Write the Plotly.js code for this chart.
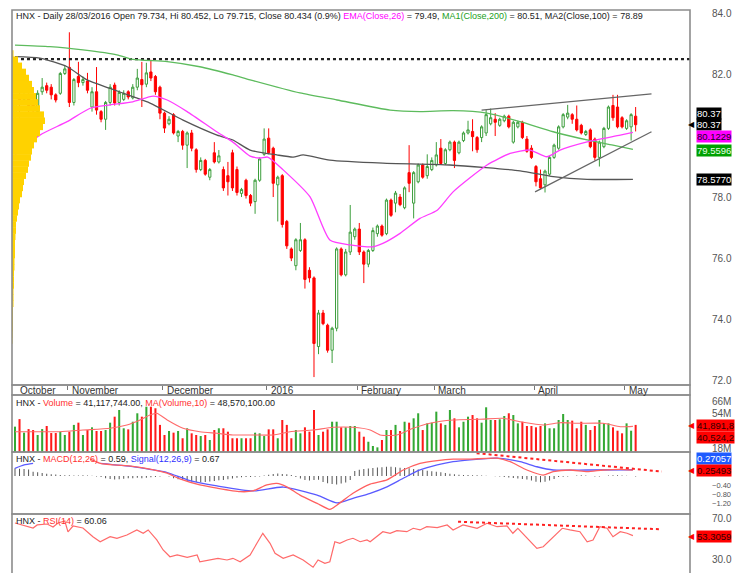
<!DOCTYPE html>
<html><head><meta charset="utf-8">
<script src="https://cdn.plot.ly/plotly-3.0.1.min.js"></script>
<style>html,body{margin:0;padding:0;background:#fff;}#chart{width:738px;height:573px;}</style>
</head><body><div id="chart"></div>
<script>
// ---------- price data (one entry per trading day) ----------
const opens = [80.75,81.25,81.2,81.34,81.1,80.8,81.45,81.65,81.6,81.35,81.4,82.05,82.25,81.1,81.95,81.75,81.8,80.95,81.45,80.8,
80.55,81.1,81.67,81.1,81.2,81.45,81.25,81.6,81.85,81.7,82.1,81.95,81.6,80.75,80.4,80.7,80.0,80.15,79.7,80.1,
79.55,78.9,79.2,78.65,79.45,79.15,78.9,78.7,79.45,78.9,78.12,78.55,78.05,77.85,78.55,79.4,79.93,79.6,78.4,78.7,
77.2,76.3,75.75,76.25,76.6,75.6,75.35,73.1,74.2,73.8,72.98,73.7,76.3,75.45,76.2,76.7,76.95,76.2,75.8,76.25,
76.8,77.05,76.8,77.9,77.8,78.0,77.65,78.8,77.8,78.5,79.05,78.7,78.9,79.05,79.6,79.1,79.55,79.8,79.45,79.85,
80.1,80.15,79.95,79.95,80.1,80.4,80.55,80.35,80.5,80.65,79.8,80.3,80.45,79.9,79.6,79.0,78.6,78.4,78.75,79.3,
79.6,80.3,80.62,80.7,80.55,80.35,80.05,80.2,79.9,79.3,79.65,80.25,81.0,80.95,80.6,80.25,80.3,80.65];
const highs = [81.18,81.5,81.45,81.4,81.2,81.5,81.9,81.75,81.7,81.4,82.1,82.3,83.4,81.9,82.43,81.95,82.07,81.6,82.26,80.85,
81.15,81.7,81.75,81.5,81.5,81.5,81.7,82.2,82.43,82.4,82.5,82.0,81.65,80.8,80.65,80.75,80.2,80.2,80.15,80.2,
79.6,79.3,79.25,78.95,79.8,79.54,79.0,79.15,79.55,79.0,78.3,78.6,78.1,78.6,79.3,80.25,80.25,79.65,78.7,78.75,
77.25,76.35,76.65,77.15,76.65,75.7,75.4,74.3,74.3,73.85,73.75,76.35,76.35,76.3,77.74,77.0,77.15,76.25,76.3,77.0,
77.1,77.1,77.95,77.95,78.2,78.1,78.35,79.7,78.85,79.1,79.1,79.4,79.3,79.8,79.9,79.6,79.85,79.85,79.85,80.15,
80.5,80.55,80.0,80.35,80.85,80.9,80.75,80.6,80.7,80.7,80.5,80.5,80.5,80.0,79.7,79.05,78.9,78.9,79.35,79.75,
80.35,80.75,81.02,80.75,81.0,80.4,80.2,80.25,79.95,79.85,80.3,81.0,81.35,81.35,80.65,80.55,80.75,80.95];
const lows = [80.43,80.6,81.1,80.62,80.7,80.75,81.35,81.4,81.2,81.1,81.35,82.0,80.95,81.0,81.6,81.65,81.4,80.8,80.7,80.45,
80.2,81.0,81.0,81.0,81.15,81.2,81.2,81.5,80.95,81.6,81.8,81.35,80.55,80.1,80.35,80.05,79.8,79.55,78.95,79.5,
78.8,78.85,78.7,78.55,79.1,79.1,78.2,78.05,78.2,78.05,78.0,77.95,77.7,77.45,78.5,79.35,79.4,78.0,77.2,77.0,
76.3,75.9,75.6,76.2,75.0,75.2,72.1,72.85,73.8,72.9,72.56,73.6,75.4,75.4,76.1,76.6,76.1,75.18,75.7,76.2,
76.7,76.7,76.75,77.35,77.5,77.7,77.6,78.16,77.3,78.45,78.6,78.6,78.85,79.0,79.05,79.05,79.5,78.95,79.4,79.8,
80.05,79.5,79.45,79.8,80.0,80.35,80.0,80.3,80.45,80.25,79.75,80.25,79.9,79.45,79.25,78.35,78.25,78.15,78.7,79.25,
79.55,80.25,80.55,80.4,80.15,80.05,80.0,79.6,79.2,79.0,79.6,80.2,80.5,80.25,80.25,80.2,79.85,80.15];
const closes = [81.12,81.08,81.35,81.0,80.85,81.4,81.6,81.5,81.35,81.18,82.05,82.2,81.1,81.85,81.75,81.85,81.5,81.45,80.85,80.55,
81.1,81.6,81.08,81.43,81.4,81.28,81.6,81.9,81.68,82.07,81.9,81.45,80.75,80.26,80.55,80.1,80.15,79.7,80.1,79.6,
78.9,79.2,78.75,78.9,79.15,79.35,78.3,78.5,78.3,78.15,78.25,78.05,77.8,78.55,79.25,79.9,79.45,78.45,78.65,77.1,
76.4,76.0,76.6,76.6,75.3,75.35,73.2,74.2,73.85,72.98,73.7,76.3,75.45,76.2,76.85,76.95,76.2,75.8,76.25,76.9,
77.05,76.75,77.9,77.4,78.13,77.75,78.3,78.45,78.8,79.05,78.65,79.0,79.2,79.38,79.1,79.55,79.8,79.2,79.8,80.1,
80.2,79.98,79.55,80.3,80.7,80.6,80.45,80.55,80.65,80.3,80.45,80.45,79.95,79.5,79.3,78.5,78.3,78.85,79.3,79.7,
80.3,80.7,80.75,80.55,80.2,80.1,80.15,79.65,79.3,79.8,80.25,80.95,80.6,80.3,80.3,80.5,80.7,80.37];
// volume, millions of shares
const volumes = [40.2,48,34,37.7,36.7,31.6,37.7,40.9,33.6,33.6,35,31.6,35,42,44.3,31.6,36.7,39.5,35.7,35.7,
36.7,44.3,50.5,57.4,38.5,37.4,45.3,54,50.5,60.8,60.8,59.2,42,31.6,35.7,34,35.7,28.2,38.5,33.3,
31.6,30.5,31.6,26.4,36.7,38.5,38.5,35,28.2,28.2,28.2,28.2,28.2,34,33.3,30.5,37.4,37.4,28.2,47.1,
42,28.2,36.7,33.3,39.5,35,57.4,31.6,35,37.4,45.3,45.3,39.5,39.5,40.9,40.9,35,29.8,24.6,20.2,
18.8,26.4,36.7,36.7,42,35.7,45.3,44.3,48.8,54,36.7,43.6,44.3,55.7,43.6,42,57.4,48.8,39.5,45.3,
50.5,52.2,48.8,44.3,60.2,47.1,47.1,47.8,51.2,54,52.2,43.6,45.3,40.9,40.9,39.5,40.9,43.6,38.5,38.5,
47.1,53.3,47.1,46.4,38.5,45.3,42,36.7,40.9,47.1,43.6,43.6,39.5,36,33.3,43.6,36,42];
// MACD histogram
const macdHist = [0.33,0.31,0.3,0.28,0.18,0.16,0.13,0.1,0.08,0.06,0.04,0.03,0.03,0.02,0.02,0.03,0.02,0.01,-0.02,-0.05,
-0.1,-0.13,-0.15,-0.14,-0.12,-0.1,-0.1,-0.08,-0.1,-0.08,-0.06,-0.04,-0.02,0.0,-0.02,-0.1,-0.14,-0.18,-0.22,-0.24,
-0.26,-0.27,-0.26,-0.24,-0.22,-0.19,-0.17,-0.14,-0.11,-0.08,-0.06,-0.05,-0.04,-0.03,-0.02,0.02,0.05,0.09,0.11,0.09,
0.07,0.04,-0.05,-0.11,-0.18,-0.2,-0.18,-0.16,-0.26,-0.32,-0.35,-0.37,-0.33,-0.28,-0.18,0.22,0.27,0.3,0.32,0.35,
0.37,0.38,0.4,0.4,0.38,0.36,0.35,0.33,0.3,0.28,0.26,0.23,0.2,0.18,0.16,0.13,0.1,0.07,0.05,0.04,
0.04,0.03,0.03,0.02,0.01,0.0,-0.01,-0.02,-0.05,-0.07,-0.09,-0.11,-0.13,-0.15,-0.2,-0.25,-0.27,-0.25,-0.2,-0.13,
-0.05,-0.03,-0.02,0.0,0.02,0.03,0.02,0.0,-0.02,-0.02,0.0,0.02,0.03,0.03,0.02,0.01,0.0,-0.02];

// ---------- indicator lines (read positions: day index, value) ----------
const ema26X = [0,5.5,11.5,16.6,21,26,30.5,33.6,38,44.6,48.1,51.9,54.1,55.8,59.2,65.1,69.5,74,79,81.2,85,89.4,93.2,96.7,104.2,109.3,113.7,117.4,120.3,126.3,133.6,136.4];
const ema26Y = [79.38,80.03,80.47,80.91,81.02,81.12,81.31,81.18,80.8,80.13,79.8,79.34,79.28,79.31,78.89,78.01,76.59,76.43,76.37,76.48,76.81,77.3,77.57,78.17,79.05,79.43,79.54,79.32,79.54,79.81,80.03,80.12];
const ma200X = [0,7.7,15,22.5,26,33.6,40.8,48.1,51.9,62.9,71.1,82.8,89.4,96.7,104.2,111.5,118.8,126.3,132,136.4];
const ma200Y = [82.98,82.93,82.82,82.66,82.51,82.44,82.27,82.0,81.84,81.41,81.18,80.85,80.8,80.83,80.75,80.47,80.14,79.87,79.7,79.56];
const ma100X = [0,5.5,11.5,15.9,21,26,29.8,37.1,44.6,48.1,51.9,57.8,61.4,63.6,69.5,81.2,96,111.5,118.8,126.3,136.4];
const ma100Y = [82.6,82.55,82.27,81.84,81.56,81.29,81.08,80.52,80.03,79.87,79.54,79.38,79.31,79.38,79.21,79.11,79.05,78.86,78.67,78.58,78.58];
const volMaX = [0,9.9,15,21,24.7,27.6,29.8,31.3,33.6,37.1,40.8,44.6,48.1,52.5,57,60.7,65.8,70.2,74.6,78.4,80.6,84.3,87.9,91.6,96.7,102.6,107.7,111.5,116.6,120.3,124.1,129.8,133.6,136.4];
const volMaY = [35,35,36.7,38.5,41.9,47.1,52.2,54,47.1,38.5,35,33.3,31.6,31.6,31.6,35,36.7,39.5,39.5,36.7,31.6,31.6,38.5,43.7,47.1,47.8,48.8,45.3,41.9,44.3,43.7,43.7,40.1,40.5];
const macdX = [16.6,18.8,26,29.8,33.6,36.4,40.8,44.6,49.7,52.5,55.6,57.8,60,62.9,66.7,69.5,71.1,74.6,78.4,82.1,85.7,89.4,93.2,96.7,100.4,106.4,109.3,113,116.6,118.8,122.5,126.3,129.8,133.6,136.4];
const macdY = [0.73,0.55,0.42,0.3,0.12,-0.13,-0.39,-0.53,-0.68,-0.65,-0.39,-0.32,-0.47,-0.83,-1.19,-1.45,-1.26,-0.75,-0.35,-0.17,0.26,0.55,0.67,0.73,0.73,0.77,0.62,0.26,0.04,0.19,0.26,0.19,0.26,0.29,0.25];
const signalX = [0,2,4,null,18.8,26,29.8,33.6,38.6,44.6,52.5,59.2,66.7,71.1,74.6,78.4,82.1,85.7,89.4,93.2,96.7,100.4,106.4,111.5,115.2,118.8,126.3,136.4];
const signalY = [0.33,0.48,0.55,null,0.55,0.41,0.29,0.15,-0.2,-0.43,-0.65,-0.48,-0.83,-1.17,-0.97,-0.75,-0.47,-0.1,0.26,0.48,0.62,0.7,0.77,0.62,0.4,0.26,0.26,0.27];
const rsiX = [0,2.6,4,4.9,7.1,8.4,9.5,11,11.7,12.8,15,17.2,18.8,21,22.5,24.7,26.9,28.3,29.4,31.3,32.7,34.2,35.8,38,40.2,40.8,43,44.8,46.8,48.1,49.7,51.9,53.4,54.7,56.3,57.4,59.2,61.4,63.6,64.7,65.8,66.9,68.4,69.5,70.6,71.7,73.3,74.6,76.2,77.7,78.4,81.2,82.8,84.3,86.5,87.9,89.4,90.9,93.2,95.4,96.7,98.9,102,104.2,106.4,108.6,109.9,111,113,115.2,116.6,118.8,120.8,122.5,124.7,126.3,127.6,129.1,130.7,132,133.6,135.1,136.4];
const rsiY = [65.5,61.9,60.7,63.6,64.5,61.7,65.5,67.4,56.9,62.6,60.7,52.3,47.5,52.3,50.8,54,58.8,55.6,58.8,49.2,39.6,33.1,34.8,32.6,34.8,28.3,30,31.6,30,31.6,28.3,34.8,46,55.6,46,36.4,31.6,34.8,30,26.8,23,30,26.8,28.3,47.5,46,49.2,50.8,47.5,49.2,47.5,57.1,55.6,58.1,57.1,60.4,58.8,61.9,61,63.6,58.8,63.6,60.4,65.2,61.9,62.6,55.6,60.4,50.8,41.2,42.7,52.3,60.4,58.8,57.1,47.5,49.2,61.9,60.4,52.3,57.1,55.6,53.3];

// trend lines (day index, value)
const trendUpX = [103, 140.5], trendUpY = [80.85, 81.38];
const trendLoX = [114.8, 140.5], trendLoY = [78.17, 80.14];
const resistX = [0, 149], resistY = [82.52, 82.52];
const macdTrendX = [101.9, 142.8], macdTrendY = [0.99, 0.19];
const rsiTrendX = [97.8, 142.8], rsiTrendY = [66.7, 59.4];

// volume-at-price profile
const profPrice = [82.7,82.5,82.3,82.1,81.9,81.7,81.5,81.3,81.1,80.9,80.7,80.5,80.3,80.1,79.9,79.7,79.5,79.3,79.1,78.9,78.7,78.5,78.3,78.1,77.9,77.7,77.5,77.3,77.1,76.9,76.7,76.5,76.3,76.1,75.9,75.7,75.5,75.3,75.1,74.9,74.7,74.5,74.3,74.1,73.9,73.7,73.5,73.3];
const profVol = [1.5,6,10,14,17,20,22,24,26,28,32,33,31,28,25,22,20,19,17,16,14,12,11,10,8,7,6,5,4,4,3.5,3,3,3,2.5,2.5,2,2,2,1.5,1.5,1.5,1,1,1,1,0.8,0.6];

// months
const monthNames = ['October','November','December','2016','February','March','April','May'];
const monthStart = [0.7,12,33,56,76,93,115,135];

// last-value labels
const mainLabels = [
  {v:80.37, t:'80.37', bg:'#000000', fc:'#FFFFFF', sh:11},
  {v:80.37, t:'80.37', bg:'#000000', fc:'#FFFFFF', sh:0, ptr:'#000000'},
  {v:80.1229, t:'80.1229', bg:'#FF00FF', fc:'#200020', sh:-4},
  {v:79.5596, t:'79.5596', bg:'#00A000', fc:'#E8FFE8', sh:-1},
  {v:78.5770, t:'78.5770', bg:'#000000', fc:'#FFFFFF', sh:0}
];
const volLabels = [
  {v:41.89, t:'41,891,8', bg:'#FF0000', fc:'#300000', sh:0, ptr:'#FF0000'},
  {v:40.52, t:'40,524,2', bg:'#FF0000', fc:'#300000', sh:-11}
];
const macdLabels = [
  {v:0.27057, t:'0.27057', bg:'#1E5BFF', fc:'#FFFFFF', sh:11},
  {v:0.25493, t:'0.25493', bg:'#FF0000', fc:'#300000', sh:-0.5, ptr:'#FF0000'}
];
const rsiLabels = [
  {v:53.3059, t:'53.3059', bg:'#FF0000', fc:'#300000', sh:-1, ptr:'#FF0000'}
];

// ---------- build ----------
const idx = opens.map((_, i) => i);
const FONT = 'Arial, "Liberation Sans", sans-serif';
const GREEN = '#3C9E3C', RED = '#FF0000';
const volColors = idx.map(i => closes[i] >= opens[i] ? '#33A833' : '#FF1A1A');

const traces = [
  {type:'bar', orientation:'h', y: profPrice, x: profVol, width: 0.215, xaxis:'x2', yaxis:'y',
   marker:{color:'#FFD200', line:{width:0}}, hoverinfo:'skip'},
  {type:'scatter', mode:'lines', x: resistX, y: resistY, xaxis:'x', yaxis:'y',
   line:{color:'#222', width:2.2, dash:'dot'}, hoverinfo:'skip'},
  {type:'scatter', mode:'lines', x: ma200X, y: ma200Y, line:{color:'#5DBB5D', width:1.3, shape:'spline', smoothing:0.6}, hoverinfo:'skip'},
  {type:'scatter', mode:'lines', x: ma100X, y: ma100Y, line:{color:'#555555', width:1.3, shape:'spline', smoothing:0.6}, hoverinfo:'skip'},
  {type:'scatter', mode:'lines', x: ema26X, y: ema26Y, line:{color:'#FF3DFF', width:1.3, shape:'spline', smoothing:0.6}, hoverinfo:'skip'},
  {type:'candlestick', x: idx, open: opens, high: highs, low: lows, close: closes, xaxis:'x', yaxis:'y',
   increasing:{line:{color:GREEN, width:1}, fillcolor:'#FFFFFF'},
   decreasing:{line:{color:RED, width:1}, fillcolor:RED},
   whiskerwidth:0, hoverinfo:'skip'},
  {type:'scatter', mode:'lines', x: trendUpX, y: trendUpY, line:{color:'#666', width:1.3}, hoverinfo:'skip'},
  {type:'scatter', mode:'lines', x: trendLoX, y: trendLoY, line:{color:'#666', width:1.3}, hoverinfo:'skip'},
  // volume
  {type:'bar', x: idx, y: volumes, width: 0.45, yaxis:'y2', marker:{color: volColors, line:{width:0}}, hoverinfo:'skip'},
  {type:'scatter', mode:'lines', x: volMaX, y: volMaY, yaxis:'y2', line:{color:'#FF6A6A', width:1.1, shape:'spline', smoothing:0.6}, hoverinfo:'skip'},
  // MACD
  {type:'bar', x: idx, y: macdHist, width: 0.22, yaxis:'y3', marker:{color:'#555', line:{width:0}}, hoverinfo:'skip'},
  {type:'scatter', mode:'lines', x: signalX, y: signalY, yaxis:'y3', connectgaps:false, line:{color:'#5A5AFF', width:1.3, shape:'spline', smoothing:0.6}, hoverinfo:'skip'},
  {type:'scatter', mode:'lines', x: macdX, y: macdY, yaxis:'y3', line:{color:'#FF6060', width:1.3, shape:'spline', smoothing:0.6}, hoverinfo:'skip'},
  {type:'scatter', mode:'lines', x: macdTrendX, y: macdTrendY, yaxis:'y3', line:{color:'#FF2020', width:2, dash:'dot'}, hoverinfo:'skip'},
  // RSI
  {type:'scatter', mode:'lines', x: rsiX, y: rsiY, yaxis:'y4', line:{color:'#FF6A6A', width:1.2}, hoverinfo:'skip'},
  {type:'scatter', mode:'lines', x: rsiTrendX, y: rsiTrendY, yaxis:'y4', line:{color:'#FF2020', width:2, dash:'dot'}, hoverinfo:'skip'}
];

const H = 573, T = 10, W = 738, L = 12, R = 48;
const plotH = H - T, plotW = W - L - R;
const py = px => (H - px) / plotH;          // pixel row -> paper y
const pxX = px => (px - L) / plotW;         // pixel col -> paper x

const yMainBottom = 385, yStripBottom = 395, yVolBottom = 452, yMacdBottom = 514;

const axisCommon = {showgrid:false, zeroline:false, side:'right', anchor:'x', fixedrange:true,
  ticks:'', ticklabelstandoff:21, tickfont:{family:FONT, size:10, color:'#555'}, showline:false};

const layout = {
  width: W, height: H, margin:{l:L, r:R, t:T, b:0},
  paper_bgcolor:'#FFFFFF', plot_bgcolor:'#FFFFFF',
  showlegend:false, barmode:'overlay', dragmode:false, hovermode:false,
  font:{family:FONT, size:9, color:'#222'},
  xaxis:{range:[-0.66, 149], anchor:'y', showgrid:false, zeroline:false, showticklabels:false,
    tickmode:'array', tickvals: monthStart.slice(1).map(v => v - 0.4), ticks:'outside', ticklen:4, tickwidth:1, tickcolor:'#777',
    rangeslider:{visible:false}, fixedrange:true, showline:false},
  xaxis2:{range:[0, plotW], overlaying:'x', anchor:'y', visible:false, fixedrange:true},
  // 80.0 and 0.00 sit behind the value boxes in the reference, so they are left out
  yaxis: Object.assign({}, axisCommon, {domain:[py(yMainBottom), 1], range:[71.84, 84.13],
    tickmode:'array', tickvals:[72,74,76,78,82,84], tickformat:'.1f'}),
  yaxis2: Object.assign({}, axisCommon, {domain:[py(yVolBottom), py(yStripBottom)], range:[14, 72.9],
    tickmode:'array', tickvals:[18,54,66], ticktext:['18M','54M','66M']}),
  yaxis3: Object.assign({}, axisCommon, {domain:[py(yMacdBottom), py(yVolBottom)], range:[-1.65, 1.04],
    tickmode:'array', tickvals:[-1.2,-0.8,-0.4], tickformat:'.2f', tickfont:{family:FONT, size:7.5, color:'#555'}}),
  yaxis4: Object.assign({}, axisCommon, {domain:[0, py(yMacdBottom)], range:[17.5, 74.1],
    tickmode:'array', tickvals:[30,70], tickformat:'.1f'}),
  shapes: [], annotations: []
};

// panel frames
const frameColor = '#8C8C8C';
[[T, yMainBottom],[yMainBottom, yStripBottom],[yStripBottom, yVolBottom],[yVolBottom, yMacdBottom],[yMacdBottom, H+2]].forEach(([a,b]) => {
  layout.shapes.push({type:'rect', xref:'paper', yref:'paper', x0:0, x1:1, y0:py(b), y1:py(a),
    line:{color:frameColor, width:1.6}, fillcolor:'rgba(0,0,0,0)', layer:'above'});
});

// headers
const hdr = (text, ypx) => ({xref:'paper', yref:'paper', x:pxX(14), y:py(ypx), xanchor:'left', yanchor:'middle',
  text, showarrow:false, font:{family:FONT, size:9, color:'#222'}});
const C = (c, t) => `<span style="color:${c}">${t}</span>`;
layout.annotations.push(hdr('HNX - Daily 28/03/2016 Open 79.734, Hi 80.452, Lo 79.715, Close 80.434 (0.9%) ' +
  C('#FF00FF','EMA(Close,26)') + ' = 79.49, ' + C('#22A022','MA1(Close,200)') + ' = 80.51, MA2(Close,100) = 78.89', 15.5));
layout.annotations.push(hdr('HNX - ' + C('#FF3030','Volume') + ' = 41,117,744.00, ' + C('#FF3030','MA(Volume,10)') + ' = 48,570,100.00', 402.5));
layout.annotations.push(hdr('HNX - ' + C('#FF3030','MACD(12,26)') + ' = 0.59, ' + C('#3030FF','Signal(12,26,9)') + ' = 0.67', 459));
layout.annotations.push(hdr('HNX - ' + C('#FF3030','RSI(14)') + ' = 60.06', 521));

// month labels
monthNames.forEach((m, k) => {
  layout.annotations.push({xref:'x', yref:'paper', x: k === 0 ? monthStart[k] : monthStart[k] - 0.4, y: py(390),
    xanchor:'left', yanchor:'middle', xshift: k === 0 ? 0 : 2, text:m, showarrow:false,
    font:{family:FONT, size:10, color:'#333'}});
});

// value boxes
const addLabels = (arr, yref) => arr.forEach(o => {
  layout.annotations.push({xref:'paper', yref, x:pxX(696), y:o.v, xanchor:'left', yanchor:'middle', yshift:o.sh,
    text:o.t, showarrow:false, bgcolor:o.bg, borderpad:0, font:{family:FONT, size:9.5, color:o.fc}});
  if (o.ptr) layout.annotations.push({xref:'paper', yref, x:pxX(697), y:o.v, xanchor:'right', yanchor:'middle', yshift:o.sh,
    text:'◀', showarrow:false, font:{family:'DejaVu Sans', size:8, color:o.ptr}});
});
addLabels(mainLabels, 'y');
addLabels(volLabels, 'y2');
addLabels(macdLabels, 'y3');
addLabels(rsiLabels, 'y4');

Plotly.newPlot('chart', traces, layout, {staticPlot:true, displayModeBar:false});
</script>
</body></html>
